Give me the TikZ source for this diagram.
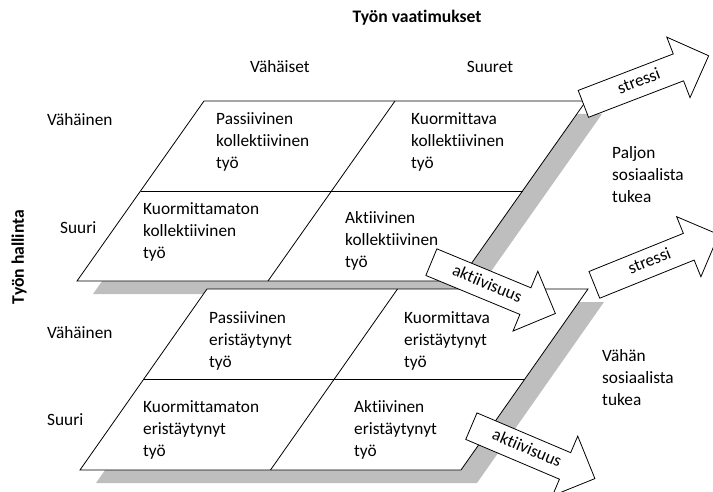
\documentclass[tikz,border=0pt]{standalone}
\usepackage{fontspec}
\setmainfont{Carlito}[Ligatures=NoCommon]
\usetikzlibrary{shapes.arrows}
\definecolor{shadowgray}{RGB}{190,190,190}

\begin{document}
\begin{tikzpicture}[x=1pt,y=-1pt,font=\fontsize{17.3}{22}\selectfont]
  \tikzset{plane/.style={draw,fill=white,line width=0.8pt},
    shade/.style={fill=shadowgray},
    cell/.style={anchor=west,align=left,inner sep=0pt},
    bigarrow/.style={single arrow,draw,fill=white,line width=0.8pt,anchor=tail,
      single arrow head extend=18pt,inner xsep=4pt,inner ysep=6pt,
      text width=111pt,align=center,text height=12pt,text depth=4pt}}
  \useasboundingbox (0,0) rectangle (713,492);
  \coordinate (a1) at (204,101); \coordinate (b1) at (586,101);
  \coordinate (c1) at (459,281); \coordinate (d1) at (77,281);
  \coordinate (a2) at (207,289); \coordinate (b2) at (588,289);
  \coordinate (c2) at (461,470); \coordinate (d2) at (80,470);
  \fill[shade] (220,114) -- (602,114) -- (475,294) -- (93,294) -- cycle;
  \draw[plane] (a1) -- (b1) -- (c1) -- (d1) -- cycle;
  \draw[line width=0.8pt] (140.5,191) -- (522.5,191);
  \draw[line width=0.8pt] (395,101) -- (268,281);
  \fill[shade] (223,302) -- (604,302) -- (477,483) -- (96,483) -- cycle;
  \draw[plane] (a2) -- (b2) -- (c2) -- (d2) -- cycle;
  \draw[line width=0.8pt] (143.5,379.5) -- (524.5,379.5);
  \draw[line width=0.8pt] (397.5,289) -- (270.5,470);
  \node[bigarrow,rotate=21] (s1) at (583,104) {stressi};
  \node[bigarrow,rotate=22] (s2) at (594,285) {stressi};
  \node[bigarrow,rotate=-22.5] (k1) at (431,262) {aktiivisuus};
  \node[bigarrow,rotate=-23] (k2) at (471,426) {aktiivisuus};
  \node[font=\fontsize{17.6}{22}\selectfont\bfseries] (vaat) at (417,18) {Työn vaatimukset};
  \node[font=\fontsize{17.6}{22}\selectfont\bfseries,rotate=90] (hall) at (19,257) {Työn hallinta};
  \node (vs) at (280,67) {Vähäiset};
  \node (su) at (490,67) {Suuret};
  \node[cell] (v1) at (47,120) {Vähäinen};
  \node[cell] (r1) at (60,228) {Suuri};
  \node[cell] (v2) at (47,333) {Vähäinen};
  \node[cell] (r2) at (47,420) {Suuri};
  \node[cell] (pk) at (216,142) {Passiivinen\\kollektiivinen\\työ};
  \node[cell] (kk) at (411,142) {Kuormittava\\kollektiivinen\\työ};
  \node[cell] (mk) at (143,232) {Kuormittamaton\\kollektiivinen\\työ};
  \node[cell] (ak) at (345,241) {Aktiivinen\\kollektiivinen\\työ};
  \node[cell] (pe) at (209,341) {Passiivinen\\eristäytynyt\\työ};
  \node[cell] (ke) at (404,341) {Kuormittava\\eristäytynyt\\työ};
  \node[cell] (me) at (143,430) {Kuormittamaton\\eristäytynyt\\työ};
  \node[cell] (ae) at (354,430) {Aktiivinen\\eristäytynyt\\työ};
  \node[cell] (pt) at (612,175) {Paljon\\sosiaalista\\tukea};
  \node[cell] (vt) at (602,378) {Vähän\\sosiaalista\\tukea};
\end{tikzpicture}
\end{document}
